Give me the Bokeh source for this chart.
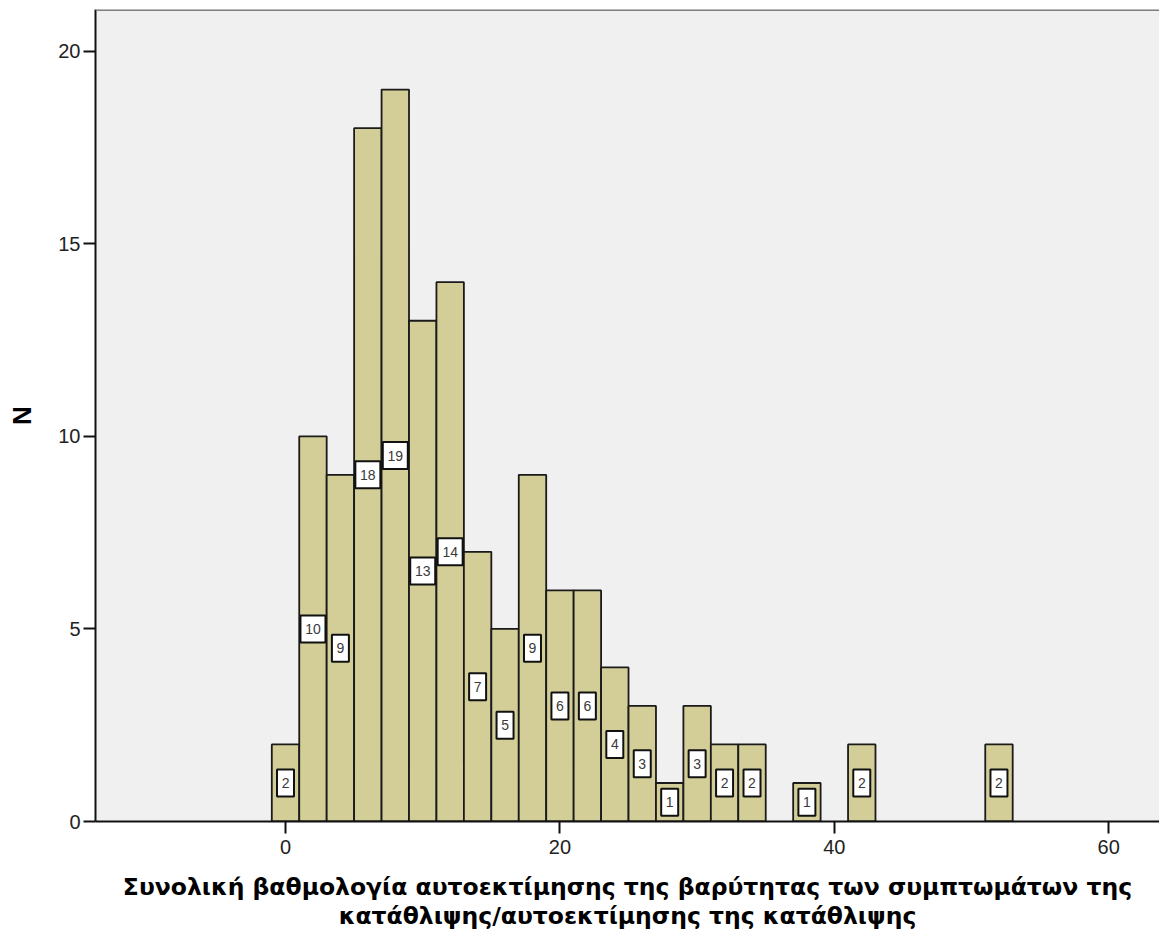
from bokeh.plotting import figure
from bokeh.models import ColumnDataSource, FixedTicker, Range1d, Span
from bokeh.core.properties import value
from bokeh.embed import file_html
from bokeh.resources import INLINE

# Data
bin_centers = [0, 2, 4, 6, 8, 10, 12, 14, 16, 18, 20, 22, 24, 26, 28, 30, 32, 34, 38, 42, 52]
counts = [2, 10, 9, 18, 19, 13, 14, 7, 5, 9, 6, 6, 4, 3, 1, 3, 2, 2, 1, 2, 2]
bin_width = 2
x_ticks = [0, 20, 40, 60]
y_ticks = [0, 5, 10, 15, 20]
x_title = "Συνολική βαθμολογία αυτοεκτίμησης της βαρύτητας των συμπτωμάτων της\nκατάθλιψης/αυτοεκτίμησης της κατάθλιψης"
y_title = "N"

labels = [str(c) for c in counts]
src = ColumnDataSource(dict(
    x=bin_centers,
    top=counts,
    mid=[c / 2 for c in counts],
    lab=labels,
    bw=[17 if len(s) == 1 else 25 for s in labels],
))

y_end = 21.08
p = figure(width=1159, height=932, output_backend="svg", toolbar_location=None,
           x_range=Range1d(-13.85, 63.7), y_range=Range1d(0, y_end),
           min_border_left=95, min_border_right=0, min_border_top=9, min_border_bottom=110)
p.background_fill_color = "#F0F0F0"
p.border_fill_color = "white"
p.outline_line_color = None
p.xgrid.visible = False
p.ygrid.visible = False

p.vbar(x="x", top="top", bottom=0, width=bin_width, source=src,
       fill_color="#D3CE97", line_color="#1A1A1A", line_width=1.8)

p.rect(x="x", y="mid", width="bw", height=27, width_units="screen", height_units="screen",
       source=src, fill_color="white", line_color="#111111", line_width=2)
p.text(x="x", y="mid", text="lab", source=src, text_align="center", text_baseline="middle",
       text_font=value("Liberation Sans"), text_font_size="14px", text_color="#3A3A3A")

p.add_layout(Span(location=y_end, dimension="width", line_color="#7F7F7F", line_width=3))

for ax in (p.xaxis[0], p.yaxis[0]):
    ax.axis_line_color = "#111111"
    ax.axis_line_width = 2
    ax.major_tick_line_color = "#111111"
    ax.major_tick_line_width = 2
    ax.major_tick_out = 12
    ax.major_tick_in = 0
    ax.minor_tick_line_color = None
    ax.major_label_text_font = "Liberation Sans"
    ax.major_label_text_font_size = "20px"
    ax.major_label_text_color = "#222222"

p.xaxis.ticker = FixedTicker(ticks=x_ticks)
p.yaxis.ticker = FixedTicker(ticks=y_ticks)
p.xaxis.major_label_standoff = 6
p.yaxis.major_label_standoff = 3

p.xaxis.axis_label = x_title
p.xaxis.axis_label_text_font = "DejaVu Sans"
p.xaxis.axis_label_text_font_style = "bold"
p.xaxis.axis_label_text_font_size = "23.5px"
p.xaxis.axis_label_text_color = "black"
p.xaxis.axis_label_text_line_height = 1.05
p.xaxis.axis_label_standoff = 16

p.yaxis.axis_label = y_title
p.yaxis.axis_label_text_font = "Liberation Sans"
p.yaxis.axis_label_text_font_style = "bold"
p.yaxis.axis_label_text_font_size = "26px"
p.yaxis.axis_label_text_color = "black"
p.yaxis.axis_label_standoff = 18

open("out.html", "w").write(file_html(p, INLINE))
